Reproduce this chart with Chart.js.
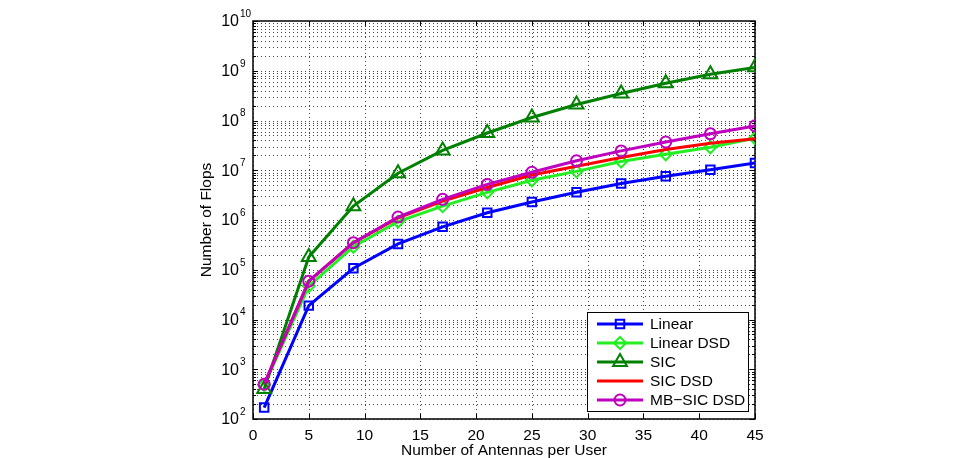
<!DOCTYPE html>
<html>
<head>
<meta charset="utf-8">
<script src="https://cdn.jsdelivr.net/npm/chart.js@4/dist/chart.umd.min.js"></script>
<style>
  html, body { margin: 0; padding: 0; background: #fff; }
  canvas { display: block; }
</style>
</head>
<body>
<canvas id="chart" width="966" height="458"></canvas>
<script>
// antennas per user
const antennas = [1, 5, 9, 13, 17, 21, 25, 29, 33, 37, 41, 45];

// flops per scheme
const linear    = [170, 1.9e4, 1.07e5, 3.3e5, 7.3e5, 1.4e6, 2.3e6, 3.6e6, 5.4e6, 7.6e6, 1.02e7, 1.4e7];
const linearDSD = [480, 4.7e4, 2.9e5, 9.3e5, 1.9e6, 3.6e6, 6.3e6, 9.5e6, 1.5e7, 2.1e7, 2.9e7, 4.4e7];
const sic       = [400, 1.8e5, 1.9e6, 8.7e6, 2.5e7, 5.6e7, 1.15e8, 2.1e8, 3.5e8, 5.6e8, 8.5e8, 1.17e9];
const sicDSD    = [500, 5.9e4, 3.5e5, 1.1e6, 2.4e6, 4.5e6, 8.0e6, 1.2e7, 1.8e7, 2.6e7, 3.5e7, 4.3e7];
const mbSicDSD  = [500, 5.9e4, 3.5e5, 1.15e6, 2.6e6, 5.2e6, 9.1e6, 1.55e7, 2.45e7, 3.7e7, 5.4e7, 7.8e7];

// axis ticks
const xTicks = [0, 5, 10, 15, 20, 25, 30, 35, 40, 45];
const yExponents = [2, 3, 4, 5, 6, 7, 8, 9, 10];

const FONT = "'Liberation Sans', Arial, Helvetica, sans-serif";

function pts(ys) {
  return antennas.map((x, i) => ({ x: x, y: ys[i] }));
}

const series = [
  { label: 'Linear',     data: linear,    color: '#0000ff', marker: 'rect',     radius: 6, order: 5 },
  { label: 'Linear DSD', data: linearDSD, color: '#22ee22', marker: 'rectRot',  radius: 6, order: 4 },
  { label: 'SIC',        data: sic,       color: '#008000', marker: 'triangle', radius: 8, order: 3 },
  { label: 'SIC DSD',    data: sicDSD,    color: '#ff0000', marker: null,       radius: 0, order: 2 },
  { label: 'MB\u2212SIC DSD', data: mbSicDSD, color: '#bf00bf', marker: 'circle', radius: 5.5, order: 1 }
];

function drawMarker(ctx, type, x, y, r) {
  ctx.beginPath();
  if (type === 'rect') {
    const s = r * Math.SQRT1_2;
    ctx.rect(x - s, y - s, 2 * s, 2 * s);
  } else if (type === 'rectRot') {
    ctx.moveTo(x, y - r); ctx.lineTo(x + r, y); ctx.lineTo(x, y + r); ctx.lineTo(x - r, y); ctx.closePath();
  } else if (type === 'triangle') {
    for (let k = 0; k < 3; k++) {
      const a = k * 2 * Math.PI / 3;
      const px = x + Math.sin(a) * r, py = y - Math.cos(a) * r;
      if (k === 0) ctx.moveTo(px, py); else ctx.lineTo(px, py);
    }
    ctx.closePath();
  } else if (type === 'circle') {
    ctx.arc(x, y, r, 0, Math.PI * 2);
  }
  ctx.stroke();
}

// grid, box and inward ticks, matlab style
const gridPlugin = {
  id: 'grid',
  beforeDatasetsDraw(chart) {
    const { ctx, chartArea: a, scales } = chart;
    const xs = scales.x, ys = scales.y;
    ctx.save();
    ctx.strokeStyle = '#444';
    ctx.lineWidth = 1;
    ctx.setLineDash([1, 3]);
    xTicks.forEach(v => {
      const px = Math.round(xs.getPixelForValue(v)) + 0.5;
      ctx.beginPath(); ctx.moveTo(px, a.top); ctx.lineTo(px, a.bottom); ctx.stroke();
    });
    for (let e = yExponents[0]; e < yExponents[yExponents.length - 1]; e++) {
      for (let m = 1; m <= 9; m++) {
        const py = Math.round(ys.getPixelForValue(m * Math.pow(10, e))) + 0.5;
        ctx.beginPath(); ctx.moveTo(a.left, py); ctx.lineTo(a.right, py); ctx.stroke();
      }
    }
    ctx.setLineDash([]);
    ctx.strokeStyle = '#000';
    // inward ticks
    xTicks.forEach(v => {
      const px = Math.round(xs.getPixelForValue(v)) + 0.5;
      ctx.beginPath();
      ctx.moveTo(px, a.bottom); ctx.lineTo(px, a.bottom - 5);
      ctx.moveTo(px, a.top); ctx.lineTo(px, a.top + 5);
      ctx.stroke();
    });
    for (let e = yExponents[0]; e <= yExponents[yExponents.length - 1]; e++) {
      for (let m = 1; m <= 9; m++) {
        if (e === yExponents[yExponents.length - 1] && m > 1) break;
        const py = Math.round(ys.getPixelForValue(m * Math.pow(10, e))) + 0.5;
        const len = m === 1 ? 5 : 3;
        ctx.beginPath();
        ctx.moveTo(a.left, py); ctx.lineTo(a.left + len, py);
        ctx.moveTo(a.right, py); ctx.lineTo(a.right - len, py);
        ctx.stroke();
      }
    }
    ctx.lineWidth = 1.5;
    ctx.strokeRect(a.left, a.top, a.right - a.left, a.bottom - a.top);
    ctx.restore();
  },
  afterDraw(chart) {
    const { ctx, chartArea: a, scales } = chart;
    const ys = scales.y;
    ctx.save();
    ctx.fillStyle = '#000';
    ctx.textBaseline = 'middle';
    // y tick labels 10^n
    yExponents.forEach(e => {
      const py = ys.getPixelForValue(Math.pow(10, e));
      ctx.font = '16px ' + FONT;
      ctx.textAlign = 'right';
      ctx.fillText('10', a.left - 14, py + 1);
      ctx.font = '10px ' + FONT;
      ctx.textAlign = 'left';
      ctx.fillText(String(e), a.left - 13, py - 7);
    });
    // legend
    const lx = 587.5, ly = 312.5, lw = 161, lh = 99;
    ctx.fillStyle = '#fff';
    ctx.fillRect(lx, ly, lw, lh);
    ctx.strokeStyle = '#000';
    ctx.lineWidth = 1;
    ctx.strokeRect(lx, ly, lw, lh);
    series.forEach((s, i) => {
      const y = 324 + i * 19;
      ctx.strokeStyle = s.color;
      ctx.lineWidth = 3;
      ctx.beginPath(); ctx.moveTo(597, y); ctx.lineTo(643, y); ctx.stroke();
      if (s.marker) {
        ctx.lineWidth = 2;
        drawMarker(ctx, s.marker, 620, y, s.radius);
      }
      ctx.fillStyle = '#000';
      ctx.font = '15.5px ' + FONT;
      ctx.textAlign = 'left';
      ctx.fillText(s.label, 650, y + 1);
    });
    ctx.restore();
  }
};

new Chart(document.getElementById('chart').getContext('2d'), {
  type: 'line',
  data: {
    datasets: series.map(s => ({
      label: s.label,
      data: pts(s.data),
      borderColor: s.color,
      backgroundColor: s.color,
      borderWidth: 3,
      pointStyle: s.marker || false,
      pointRadius: s.radius,
      pointBorderWidth: 2,
      pointBorderColor: s.color,
      pointBackgroundColor: 'rgba(0,0,0,0)',
      tension: 0,
      fill: false,
      order: s.order
    }))
  },
  options: {
    responsive: false,
    animation: false,
    layout: { padding: { left: 197, top: 21, right: 211, bottom: 0 } },
    plugins: { legend: { display: false }, tooltip: { enabled: false } },
    scales: {
      x: {
        type: 'linear',
        min: 0, max: 45,
        afterBuildTicks: sc => { sc.ticks = xTicks.map(v => ({ value: v })); },
        afterFit: sc => { sc.height = 39; },
        grid: { display: false, drawTicks: false, tickLength: 0 },
        border: { display: false },
        ticks: { color: '#000', font: { family: FONT, size: 15.5 }, padding: 7, maxRotation: 0 },
        title: { display: true, text: 'Number of Antennas per User', color: '#000',
                 font: { family: FONT, size: 15.5, lineHeight: 1 }, padding: { top: 0, bottom: 0 } }
      },
      y: {
        type: 'logarithmic',
        min: 1e2, max: 1e10,
        afterFit: sc => { sc.width = 56; },
        grid: { display: false },
        border: { display: false },
        ticks: { display: false },
        title: { display: true, text: 'Number of Flops', color: '#000',
                 font: { family: FONT, size: 15.5 }, padding: 0 }
      }
    }
  },
  plugins: [gridPlugin]
});
</script>
</body>
</html>
